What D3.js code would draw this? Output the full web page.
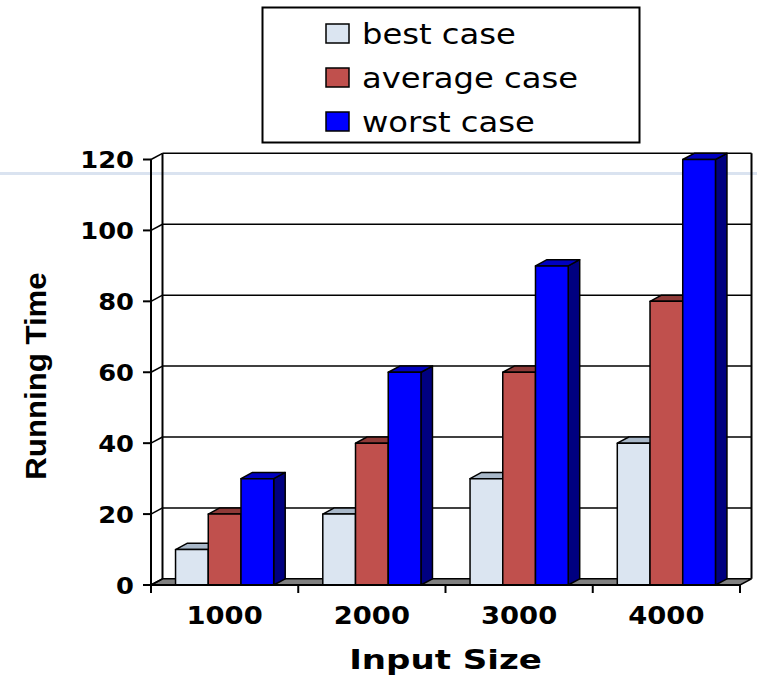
<!DOCTYPE html>
<html>
<head>
<meta charset="utf-8">
<script src="https://cdn.jsdelivr.net/npm/d3@7"></script>
<style>
    html, body { margin: 0; padding: 0; background: #ffffff; }
    svg { display: block; }
</style>
</head>
<body>
<svg id="chart" width="757" height="678"></svg>
<script>
const categories = ['1000', '2000', '3000', '4000'];
const seriesNames = ['best case', 'average case', 'worst case'];
const bestCase = [10, 20, 30, 40];
const averageCase = [20, 40, 60, 80];
const worstCase = [30, 60, 90, 120];
const yTicks = [0, 20, 40, 60, 80, 100, 120];

class Bars3d {
    constructor(container) {
        this.svg = d3.select(container);
        this.series = [bestCase, averageCase, worstCase];

        // front, top, side
        this.colors = [
            ['#dbe5f1', '#a9b8c9', '#98a7b8'],
            ['#c0504d', '#8e3a38', '#7a2e2c'],
            ['#0000ff', '#0000c0', '#000080'],
        ];

        this.layout();
        this.render();
    }

    layout() {
        const LEFT = 151;
        const RIGHT = 740;
        const BOTTOM = 585;
        const TOP = 159.5;

        this.depth = { dx: 11.5, dy: -6.2 };

        this.x0 = d3.scaleBand()
            .domain(categories)
            .range([LEFT, RIGHT]);

        this.x1 = d3.scaleBand()
            .domain(d3.range(seriesNames.length))
            .range([0, this.x0.bandwidth()])
            .paddingOuter(0.75);

        this.y = d3.scaleLinear()
            .domain([0, 120])
            .range([BOTTOM, TOP]);
    }

    stretch(sel, x, y, sx) {
        return sel.attr('transform', `translate(${x},${y}) scale(${sx},1)`);
    }

    render() {
        const { dx, dy } = this.depth;
        const [left, right] = this.x0.range();
        const y = this.y;
        const g = this.svg.append('g');

        // floor
        g.append('path')
            .attr('d', `M${left},${y(0)}L${right},${y(0)}L${right + dx},${y(0) + dy}L${left + dx},${y(0) + dy}Z`)
            .attr('fill', '#808080')
            .attr('stroke', '#000')
            .attr('stroke-width', 1.5);

        // slide decoration line
        g.append('rect')
            .attr('x', 0)
            .attr('y', 172)
            .attr('width', 757)
            .attr('height', 3)
            .attr('fill', '#dae3f0');

        // back wall gridlines
        g.selectAll('line.grid')
            .data(yTicks.filter(d => d > 0))
            .enter()
            .append('line')
            .attr('class', 'grid')
            .attr('x1', left + dx)
            .attr('x2', right + dx)
            .attr('y1', d => y(d) + dy)
            .attr('y2', d => y(d) + dy)
            .attr('stroke', '#000')
            .attr('stroke-width', 1.5);

        // left wall diagonals
        g.selectAll('line.diag')
            .data(yTicks)
            .enter()
            .append('line')
            .attr('class', 'diag')
            .attr('x1', left)
            .attr('x2', left + dx)
            .attr('y1', d => y(d))
            .attr('y2', d => y(d) + dy)
            .attr('stroke', '#000')
            .attr('stroke-width', 1.5);

        g.append('path')
            .attr('d', `M${left + dx},${y(0) + dy}V${y(120) + dy}M${right + dx},${y(0) + dy}V${y(120) + dy}`)
            .attr('stroke', '#000')
            .attr('stroke-width', 2)
            .attr('fill', 'none');

        // bars, left to right so that side faces get covered properly
        const bars = [];
        categories.forEach((c, i) => {
            this.series.forEach((s, k) => {
                bars.push({ c, k, value: s[i] });
            });
        });

        const bar = g.selectAll('g.bar')
            .data(bars)
            .enter()
            .append('g')
            .attr('class', 'bar')
            .attr('stroke', '#000')
            .attr('stroke-width', 1.5)
            .attr('stroke-linejoin', 'round');

        const bx = d => this.x0(d.c) + this.x1(d.k);
        const bw = this.x1.bandwidth();

        bar.append('path')
            .attr('fill', d => this.colors[d.k][2])
            .attr('d', d => {
                const x = bx(d) + bw;
                return `M${x},${y(0)}L${x + dx},${y(0) + dy}L${x + dx},${y(d.value) + dy}L${x},${y(d.value)}Z`;
            });

        bar.append('path')
            .attr('fill', d => this.colors[d.k][1])
            .attr('d', d => {
                const x = bx(d);
                const t = y(d.value);
                return `M${x},${t}L${x + dx},${t + dy}L${x + bw + dx},${t + dy}L${x + bw},${t}Z`;
            });

        bar.append('rect')
            .attr('fill', d => this.colors[d.k][0])
            .attr('x', bx)
            .attr('y', d => y(d.value))
            .attr('width', bw)
            .attr('height', d => y(0) - y(d.value));

        // axes
        const axis = g.append('g')
            .attr('stroke', '#000')
            .attr('stroke-width', 2)
            .attr('fill', 'none');

        axis.append('path')
            .attr('d', `M${left},${y(0)}V${y(120)}M${left},${y(0)}H${right}`);

        axis.selectAll('line.ytick')
            .data(yTicks)
            .enter()
            .append('line')
            .attr('x1', left - 8)
            .attr('x2', left)
            .attr('y1', d => y(d))
            .attr('y2', d => y(d));

        axis.selectAll('line.xtick')
            .data(d3.range(categories.length + 1))
            .enter()
            .append('line')
            .attr('x1', i => left + i * this.x0.step())
            .attr('x2', i => left + i * this.x0.step())
            .attr('y1', y(0))
            .attr('y2', y(0) + 8);

        g.selectAll('text.ylabel')
            .data(yTicks)
            .enter()
            .append('text')
            .attr('class', 'ylabel')
            .attr('text-anchor', 'end')
            .attr('font-family', 'DejaVu Sans, Verdana, sans-serif')
            .attr('font-weight', 'bold')
            .attr('font-size', 23)
            .attr('transform', d => `translate(134,${y(d) + 8.5}) scale(1.12,1)`)
            .text(d => d);

        g.selectAll('text.xlabel')
            .data(categories)
            .enter()
            .append('text')
            .attr('class', 'xlabel')
            .attr('text-anchor', 'middle')
            .attr('font-family', 'DejaVu Sans, Verdana, sans-serif')
            .attr('font-weight', 'bold')
            .attr('font-size', 24)
            .attr('transform', d => `translate(${this.x0(d) + this.x0.bandwidth() / 2},624) scale(1.14,1)`)
            .text(d => d);

        this.stretch(g.append('text'), (left + right) / 2, 669, 1.31)
            .attr('text-anchor', 'middle')
            .attr('font-family', 'DejaVu Sans, Verdana, sans-serif')
            .attr('font-weight', 'bold')
            .attr('font-size', 26)
            .text('Input Size');

        g.append('text')
            .attr('text-anchor', 'middle')
            .attr('font-family', 'Liberation Sans, Arial, sans-serif')
            .attr('font-weight', 'bold')
            .attr('font-size', 30)
            .attr('transform', 'translate(46,376) rotate(-90) scale(1.04,1)')
            .text('Running Time');

        this.renderLegend();
    }

    renderLegend() {
        const container = this.svg
            .append('g')
            .attr('class', 'legend');

        container.append('rect')
            .attr('x', 262.5)
            .attr('y', 7.5)
            .attr('width', 377)
            .attr('height', 135)
            .attr('fill', '#fff')
            .attr('stroke', '#000')
            .attr('stroke-width', 2);

        const item = container.selectAll('g.item')
            .data(seriesNames)
            .enter()
            .append('g')
            .attr('class', 'item')
            .attr('transform', (d, i) => `translate(326,${33.5 + 44 * i})`);

        item.append('rect')
            .attr('x', 0)
            .attr('y', -9.5)
            .attr('width', 23)
            .attr('height', 19)
            .attr('fill', (d, i) => this.colors[i][0])
            .attr('stroke', '#000')
            .attr('stroke-width', 1.5);

        item.append('text')
            .attr('font-family', 'DejaVu Sans, Verdana, sans-serif')
            .attr('font-size', 28)
            .attr('transform', 'translate(36,10) scale(1.15,1)')
            .text(d => d);
    }
}

new Bars3d('#chart');
</script>
</body>
</html>
